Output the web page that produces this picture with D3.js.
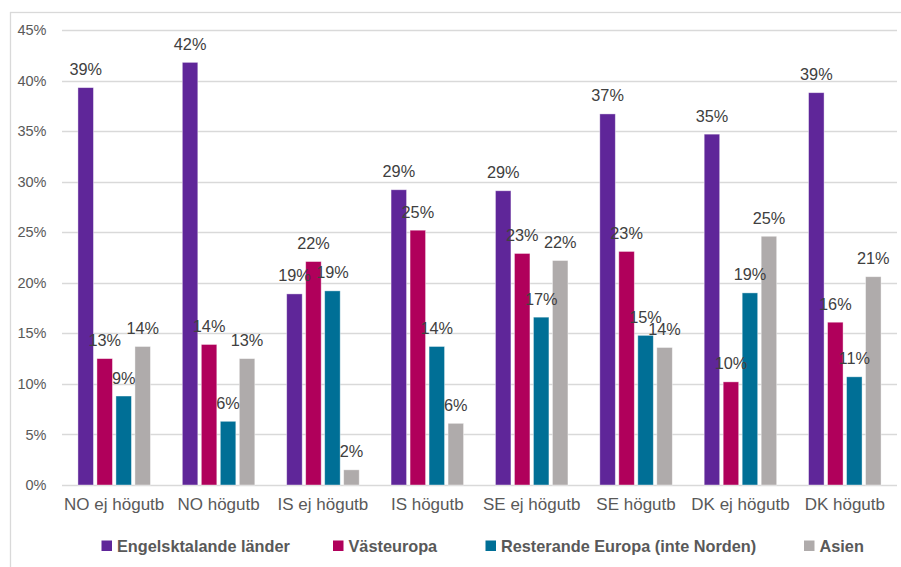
<!DOCTYPE html>
<html><head><meta charset="utf-8">
<script src="https://cdn.jsdelivr.net/npm/d3@7"></script>
<style>
html,body{margin:0;padding:0;background:#fff;}
svg{display:block;font-family:"Liberation Sans",Arial,sans-serif;}
</style></head>
<body>
<script>
const categories = ["NO ej högutb","NO högutb","IS ej högutb","IS högutb","SE ej högutb","SE högutb","DK ej högutb","DK högutb"];
const seriesNames = ["Engelsktalande länder","Västeuropa","Resterande Europa (inte Norden)","Asien"];
const engelsktalande = [0.393,0.418,0.189,0.292,0.291,0.367,0.347,0.388];
const vasteuropa     = [0.125,0.139,0.221,0.252,0.229,0.231,0.102,0.161];
const resterande     = [0.088,0.063,0.192,0.137,0.166,0.148,0.190,0.107];
const asien          = [0.137,0.125,0.015,0.061,0.222,0.136,0.246,0.206];
const yTicks = [0,0.05,0.10,0.15,0.20,0.25,0.30,0.35,0.40,0.45];
const colors = ["#5F2699","#B0005B","#006F96","#AFABAB"];

const seriesValues = [engelsktalande, vasteuropa, resterande, asien];
const W = 901, H = 567;
const svg = d3.select("body").append("svg").attr("width", W).attr("height", H);

// chart border
svg.append("rect").attr("x",10.5).attr("y",12.5).attr("width",W).attr("height",H)
  .attr("fill","none").attr("stroke","#D9D9D9").attr("stroke-width",1.3);

const y = d3.scaleLinear().domain([0,0.45]).range([485,30]);
const x0 = d3.scaleBand().domain(categories).range([62,897]).paddingInner(0).paddingOuter(0);
const x1 = d3.scaleBand().domain(d3.range(4)).range([-36.25,36.25]).paddingInner(0.184).paddingOuter(0);

// gridlines
svg.append("g").selectAll("line").data(yTicks).join("line")
  .attr("x1",62).attr("x2",897)
  .attr("y1",d=>Math.round(y(d))+0.5).attr("y2",d=>Math.round(y(d))+0.5)
  .attr("stroke","#D9D9D9").attr("stroke-width",1.3);

// y axis labels
const yAxis = d3.axisLeft(y).tickValues(yTicks).tickFormat(d3.format(".0%")).tickSize(0).tickPadding(0);
const gy = svg.append("g").attr("transform","translate(46.5,0)").call(yAxis);
gy.select(".domain").remove();
gy.selectAll("text").attr("fill","#595959").attr("font-size","14.5px").attr("font-family","Liberation Sans, Arial, sans-serif");

// x axis labels
const xAxis = d3.axisBottom(x0).tickSize(0).tickPadding(0);
const gx = svg.append("g").attr("transform","translate(0,498)").call(xAxis);
gx.select(".domain").remove();
gx.selectAll("text").attr("fill","#595959").attr("font-size","17px").attr("font-family","Liberation Sans, Arial, sans-serif");

// bars
const data = [];
categories.forEach((c,i)=>{
  seriesValues.forEach((arr,s)=>{ data.push({c, s, v: arr[i]}); });
});
const gb = svg.append("g");
gb.selectAll("rect").data(data).join("rect")
  .attr("x", d=>x0(d.c)+x0.bandwidth()/2+x1(d.s))
  .attr("width", x1.bandwidth())
  .attr("y", d=>y(d.v))
  .attr("height", d=>y(0)-y(d.v))
  .attr("fill", d=>colors[d.s])
  .attr("stroke","#ffffff").attr("stroke-opacity",0.5).attr("stroke-width",0.8);

// value labels
gb.selectAll("text").data(data).join("text")
  .attr("x", d=>x0(d.c)+x0.bandwidth()/2+x1(d.s)+x1.bandwidth()/2)
  .attr("y", d=>y(d.v)-12.5)
  .attr("text-anchor","middle")
  .attr("fill","#404040").attr("font-size","16.3px")
  .text(d=>d3.format(".0%")(d.v));

// legend
const legendX = [101.5, 333, 485.5, 804];
const lg = svg.append("g");
seriesNames.forEach((n,i)=>{
  lg.append("rect").attr("x",legendX[i]).attr("y",540.5).attr("width",10.5).attr("height",10.5).attr("fill",colors[i]);
  lg.append("text").attr("x",legendX[i]+15.5).attr("y",551.5)
    .attr("fill","#595959").attr("font-size","16.3px").attr("font-weight","bold")
    .text(n);
});
</script>
</body></html>
